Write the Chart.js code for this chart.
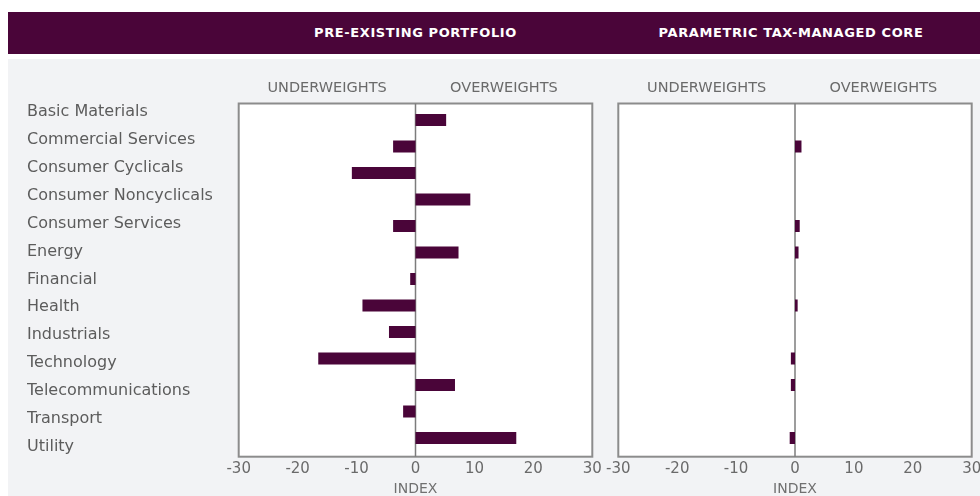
<!DOCTYPE html>
<html>
<head>
<meta charset="utf-8">
<script src="https://cdn.jsdelivr.net/npm/chart.js@4.4.1/dist/chart.umd.min.js"></script>
<style>
    html, body { margin: 0; padding: 0; background: #fff; }
    body { width: 980px; height: 496px; position: relative; overflow: hidden; font-family: "DejaVu Sans", sans-serif; }
    #band { position: absolute; left: 8px; top: 12px; width: 972px; height: 42px; background: #4a0539; }
    .head { position: absolute; top: 0; line-height: 42px; color: #fff; font-weight: bold; font-size: 13px; letter-spacing: 0.6px; white-space: nowrap; transform: translateX(-50%); }
    #bg { position: absolute; left: 8px; top: 59px; width: 972px; height: 437px; background: #f2f3f5; }
    canvas { position: absolute; }
</style>
</head>
<body>
<div id="band">
    <div class="head" id="head0"></div>
    <div class="head" id="head1"></div>
</div>
<div id="bg"></div>
<canvas id="labels" width="230" height="380" style="left:0;top:90px"></canvas>
<canvas id="left" width="385" height="436" style="left:220px;top:60px"></canvas>
<canvas id="right" width="375" height="436" style="left:605px;top:60px"></canvas>
<script>
const sectors = ['Basic Materials', 'Commercial Services', 'Consumer Cyclicals', 'Consumer Noncyclicals',
    'Consumer Services', 'Energy', 'Financial', 'Health', 'Industrials', 'Technology',
    'Telecommunications', 'Transport', 'Utility'];
const preExisting = [5.2, -3.8, -10.8, 9.3, -3.8, 7.3, -0.9, -9.0, -4.5, -16.5, 6.7, -2.1, 17.1];
const taxManaged = [0, 1.1, 0, 0, 0.8, 0.6, 0, 0.45, 0, -0.7, -0.7, 0, -0.9];
const xTicks = [-30, -20, -10, 0, 10, 20, 30];
const sides = ['UNDERWEIGHTS', 'OVERWEIGHTS'];
const panelTitles = ['PRE-EXISTING PORTFOLIO', 'PARAMETRIC TAX-MANAGED CORE'];
const axisTitle = 'INDEX';

const PURPLE = '#4a0539';
const FONT = '"DejaVu Sans", sans-serif';

// header titles sit over each panel's zero line
let head0 = document.getElementById('head0');
head0.textContent = panelTitles[0];
head0.style.left = '407.5px';
let head1 = document.getElementById('head1');
head1.textContent = panelTitles[1];
head1.style.left = '783px';

// white plot box with grey frame and zero line, a little taller than the bar rows
const panelBox = {
    id: 'panelBox',
    beforeDatasetsDraw(chart)
    {
        let ctx = chart.ctx;
        let area = chart.chartArea;
        let top = area.top - 3.25;
        let bottom = area.bottom + 5.45;
        let x0 = chart.scales.x.getPixelForValue(0);

        ctx.save();
        ctx.fillStyle = '#fff';
        ctx.fillRect(area.left, top, area.width, bottom - top);
        ctx.strokeStyle = '#8c8c8c';
        ctx.lineWidth = 2;
        ctx.strokeRect(area.left, top, area.width, bottom - top);
        ctx.beginPath();
        ctx.moveTo(x0, top);
        ctx.lineTo(x0, bottom);
        ctx.strokeStyle = '#7c7c7c';
        ctx.lineWidth = 1.5;
        ctx.stroke();
        ctx.restore();
    }
};

function makePanel(id, values, padLeft, padRight)
{
    return new Chart(document.getElementById(id), {
        type: 'bar',
        data: {
            labels: sectors,
            datasets: [{
                data: values,
                backgroundColor: PURPLE,
                borderWidth: 0,
                barPercentage: 0.45,
                categoryPercentage: 1
            }]
        },
        options: {
            indexAxis: 'y',
            responsive: false,
            animation: false,
            layout: { padding: { left: padLeft, right: padRight, top: 0, bottom: 0 } },
            plugins: { legend: { display: false }, tooltip: { enabled: false } },
            scales: {
                x: {
                    type: 'linear',
                    position: 'bottom',
                    min: xTicks[0],
                    max: xTicks[xTicks.length - 1],
                    afterBuildTicks: (s) => { s.ticks = xTicks.map(v => ({ value: v })); },
                    grid: { display: false, drawTicks: false },
                    border: { display: false },
                    ticks: { padding: 9, color: '#6a6a6a', font: { family: FONT, size: 15 } },
                    title: {
                        display: true,
                        text: axisTitle,
                        color: '#707070',
                        padding: { top: 0, bottom: 0 },
                        font: { family: FONT, size: 14, lineHeight: 1 }
                    },
                    afterFit: (s) => { s.height = 44.75; s.paddingLeft = 0; s.paddingRight = 0; }
                },
                x2: {
                    type: 'category',
                    position: 'top',
                    labels: sides,
                    offset: true,
                    grid: { display: false, drawTicks: false },
                    border: { display: false },
                    ticks: { padding: 10, color: '#6a6a6a', font: { family: FONT, size: 14.5 } },
                    afterFit: (s) => { s.height = 46.75; s.paddingLeft = 0; s.paddingRight = 0; }
                },
                y: {
                    type: 'category',
                    display: false
                }
            }
        },
        plugins: [panelBox]
    });
}

// sector names get their own category axis, spaced slightly wider than the bar rows
new Chart(document.getElementById('labels'), {
    type: 'bar',
    data: { labels: sectors, datasets: [{ data: [] }] },
    options: {
        indexAxis: 'y',
        responsive: false,
        animation: false,
        layout: { padding: { left: 27, right: 0, top: 8, bottom: 9.2 } },
        plugins: { legend: { display: false }, tooltip: { enabled: false } },
        scales: {
            x: { display: false },
            y: {
                grid: { display: false, drawTicks: false },
                border: { display: false },
                ticks: { crossAlign: 'far', padding: 0, color: '#5c5c5c', font: { family: FONT, size: 16 } },
                afterFit: (s) => { s.width = 195; s.paddingTop = 0; s.paddingBottom = 0; }
            }
        }
    }
});

makePanel('left', preExisting, 18.7, 12.7);
makePanel('right', taxManaged, 13.3, 8.3);
</script>
</body>
</html>
